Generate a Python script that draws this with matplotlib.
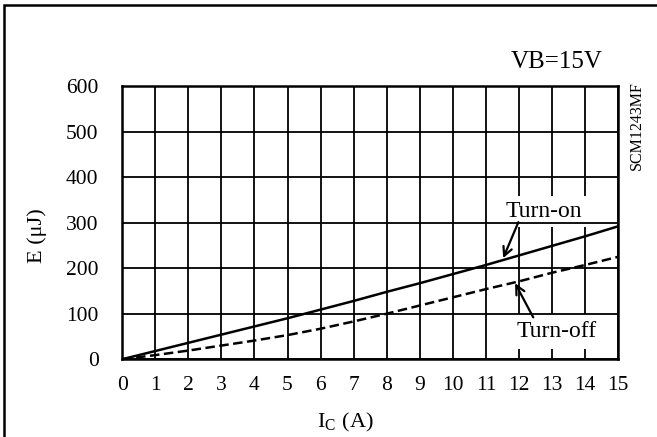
import numpy as np
import matplotlib
matplotlib.use("Agg")
from matplotlib import pyplot as plt
from matplotlib.patches import Rectangle

# values
ic = [0, 1, 2, 3, 4, 5, 6, 7, 8, 9, 10, 11, 12, 13, 14, 15]
e_on = [0, 18, 36, 54, 72, 90, 109, 128, 148, 167, 187, 207, 228, 249, 270, 292]
e_off = [0, 9, 19, 30, 41, 53, 67, 83, 100, 118, 136, 154, 171, 190, 207, 225]
x_ticks = list(range(0, 16))
y_ticks = [0, 100, 200, 300, 400, 500, 600]

plt.rcParams['font.family'] = ['Liberation Serif', 'DejaVu Serif']
plt.rcParams['mathtext.fontset'] = 'stix'

fig = plt.figure(figsize=(6.57, 4.37), dpi=100)
ax = fig.add_axes([0.186, 0.178, 0.755, 0.625])

ax.plot(ic, e_on, color='black', lw=1.8, zorder=3)
ax.plot(ic, e_off, color='black', lw=1.8, ls=(0, (3.8, 1.8)), zorder=3)

ax.set_xlim(0, 15)
ax.set_ylim(0, 600)
ax.set_xticks(x_ticks)
ax.set_yticks(y_ticks)
ax.tick_params(length=0, labelsize=15.5)
ax.tick_params(axis='x', pad=12)
ax.tick_params(axis='y', pad=17)
ax.grid(True, color='black', lw=1.3)
# vertical grid under the label boxes, horizontal grid over them
ax.xaxis.set_zorder(1)
ax.yaxis.set_zorder(2.5)
for s in ax.spines.values():
    s.set_linewidth(1.8)
    s.set_zorder(4)

ax.text(0.45, -0.249, 'I$_\\mathregular{C}$ (A)', fontsize=16,
        transform=ax.transAxes, ha='center', va='baseline')
ax.text(-0.171, 0.454, 'E (\u03bcJ)', fontsize=16, rotation=90,
        transform=ax.transAxes, ha='center', va='center')

ax.text(12.75, 312, 'Turn-on', fontsize=17, ha='center', va='baseline', zorder=2,
        bbox=dict(boxstyle='square,pad=0.2', fc='white', ec='none'))
ax.text(13.14, 48, 'Turn-off', fontsize=17, ha='center', va='baseline', zorder=2,
        bbox=dict(boxstyle='square,pad=0.3', fc='white', ec='none'))
arrow = dict(arrowstyle='->', color='black', lw=1.6, shrinkA=0, shrinkB=0,
             mutation_scale=16)
ax.annotate('', xy=(11.52, 222), xytext=(11.98, 301), arrowprops=arrow, zorder=5)
ax.annotate('', xy=(11.88, 167), xytext=(12.43, 92), arrowprops=arrow, zorder=5)

fig.text(557 / 657, 1 - 62 / 437, 'VB=15V', fontsize=18, ha='center', va='center')
fig.text(637 / 657, 1 - 126 / 437, 'SCM1243MF', fontsize=11.5, rotation=90,
         ha='center', va='center')

# outer frame
fig.patches.append(Rectangle((4 / 657, -0.05), 1.1, 1 - 5 / 437 + 0.05,
                             transform=fig.transFigure, fill=False,
                             ec='black', lw=1.8))

plt.savefig('out.png', dpi=100)
